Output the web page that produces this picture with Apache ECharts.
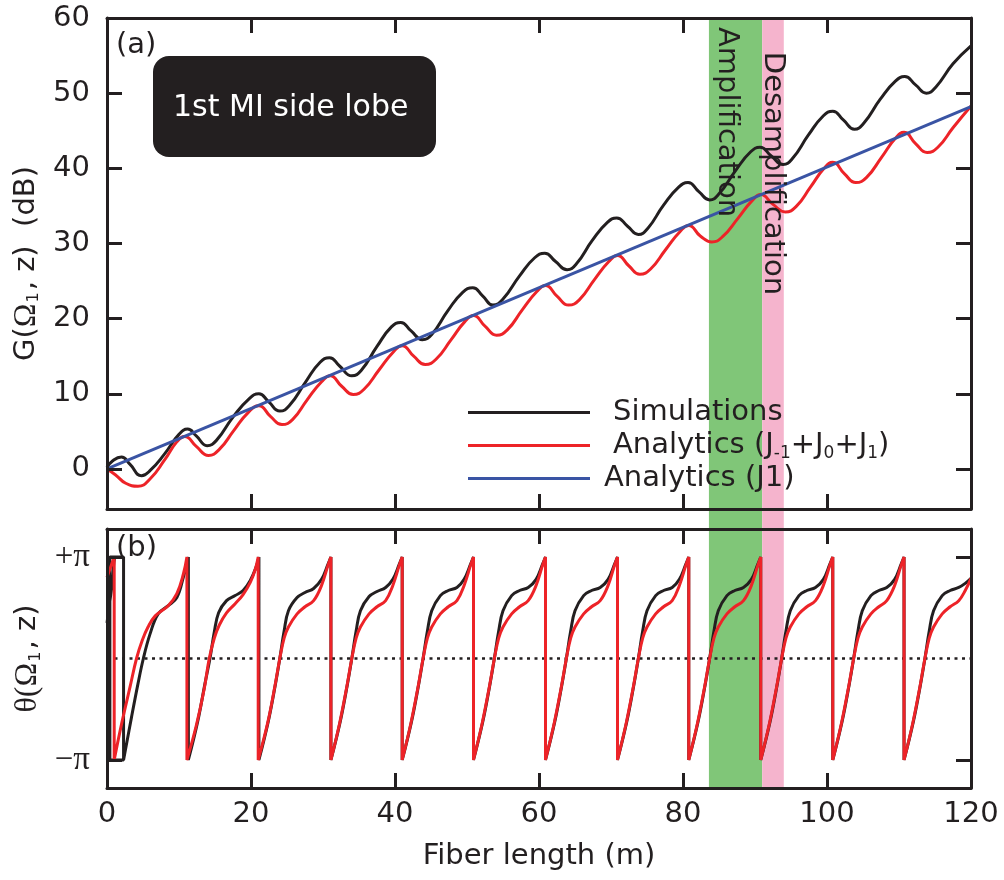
<!DOCTYPE html>
<html><head><meta charset="utf-8">
<script src="https://cdn.jsdelivr.net/npm/echarts@6/dist/echarts.min.js"></script>
<style>html,body{margin:0;padding:0;background:#fff}#c{width:1004px;height:880px}</style>
</head><body><div id="c"></div>
<script>
// ---------------- data ----------------
const xTicks = [0, 20, 40, 60, 80, 100, 120];
const gainTicks = [0, 10, 20, 30, 40, 50, 60];
const thetaTicks = [-1, 1];              // in units of π
const thetaTickLabels = ['−π', '+π'];
const seriesNames = ['Simulations', 'Analytics (J-1+J0+J1)', 'Analytics (J1)'];
const bandAmplification = [83.6, 91.0];
const bandDesamplification = [91.0, 94.0];

// (a) gain in dB vs fiber length (m)
const gainSim = [
 [0,0.2],[0.8,1.1],[2.0,1.6],[3.2,0.6],[4.8,-0.9],[6.0,-0.2],[8.0,2.0],[10.0,4.6],[11.2,5.3],[12.4,4.4],
 [13.9,3.1],[15.2,3.8],[17.5,6.9],[19.8,9.4],[21.1,10.0],[22.4,9.0],[24.0,7.7],[25.3,8.4],[27.6,11.6],[29.6,14.2],
 [30.9,14.8],[32.3,13.7],[34.0,12.4],[35.3,13.1],[37.5,16.3],[39.5,18.9],[40.8,19.5],[42.2,18.4],[43.8,17.2],[45.1,17.9],
 [47.3,21.0],[49.4,23.5],[50.8,24.1],[52.2,23.0],[53.6,21.8],[55.0,22.6],[57.3,25.7],[59.4,28.1],[60.8,28.7],[62.3,27.6],
 [63.9,26.5],[65.2,27.3],[67.4,30.4],[69.5,32.8],[70.8,33.4],[72.3,32.3],[73.8,31.2],[75.1,32.0],[77.3,35.1],[79.4,37.5],
 [80.7,38.1],[82.2,36.9],[83.7,35.8],[85.0,36.6],[87.3,39.7],[89.4,42.2],[90.7,42.8],[92.3,41.6],[93.9,40.5],[95.2,41.3],
 [97.4,44.4],[99.5,47.0],[100.8,47.6],[102.3,46.4],[103.8,45.2],[105.1,46.0],[107.4,49.2],[109.5,51.6],[110.8,52.2],[112.3,51.1],
 [113.8,50.0],[115.1,50.8],[117.5,53.9],[120,56.3]
];
const gainAnaFull = [
 [0,0],[1.2,-0.8],[2.6,-1.9],[4.3,-2.3],[6.0,-1.3],[8.0,1.2],[9.7,3.6],[10.8,4.3],[12.4,3.0],[14.1,1.8],
 [15.6,2.6],[17.6,5.1],[19.6,7.5],[21.1,8.4],[22.7,7.0],[24.3,5.9],[25.8,6.6],[27.8,9.2],[29.8,11.6],[31.0,12.4],
 [32.6,11.0],[34.2,9.9],[35.7,10.6],[37.8,13.2],[39.8,15.6],[41.0,16.4],[42.6,15.0],[44.2,13.9],[45.7,14.6],[47.8,17.2],
 [49.7,19.6],[50.9,20.4],[52.5,19.0],[54.1,17.8],[55.6,18.5],[57.7,21.2],[59.7,23.6],[60.9,24.4],[62.5,23.0],[64.1,21.8],
 [65.6,22.5],[67.7,25.2],[69.7,27.6],[70.9,28.4],[72.5,27.0],[74.0,25.9],[75.5,26.6],[77.6,29.2],[79.6,31.6],[80.8,32.4],
 [82.4,31.0],[84.0,30.2],[85.5,30.9],[87.6,33.3],[89.6,35.7],[90.8,36.5],[92.5,35.2],[94.2,34.2],[95.7,34.9],[97.7,37.5],
 [99.6,40.0],[100.8,40.8],[102.4,39.3],[104.0,38.1],[105.5,38.8],[107.6,41.5],[109.5,44.0],[110.7,44.8],[112.3,43.3],[113.9,42.1],
 [115.4,42.8],[117.5,45.4],[120.0,48.3]
];
const gainAnaJ1 = [[0,0],[120,48.2]];

// (b) phase θ in units of π vs fiber length (m)
const phaseSim = [
 [0,0.35],[0.7,0.72],[1.3,1.0],[2.3,1.0],[2.3,-1.0],[0.4,-1.0],[0.4,1.0],[2.3,1.0],[2.3,-1.0],
 [3.4,-0.58],[4.3,-0.25],[5.05,0],[5.97,0.24],[7.1,0.44],[8.5,0.52],[9.7,0.6],[10.6,0.8],[11.3,1.0],
 [11.3,-1],[12.6,-0.62],[13.6,-0.25],[14.3,0],[14.9,0.26],[15.5,0.45],[16.6,0.57],[17.8,0.62],[18.9,0.67],[19.9,0.77],[20.7,0.9],[21.1,1.0],
 [21.1,-1],[22.4,-0.62],[23.4,-0.25],[24.0,0],[24.6,0.27],[25.2,0.47],[26.4,0.6],[27.5,0.65],[28.7,0.69],[29.8,0.78],[30.7,0.93],[31.1,1.0],
 [31.1,-1],[32.4,-0.62],[33.4,-0.25],[34.0,0],[34.6,0.27],[35.2,0.47],[36.4,0.61],[37.5,0.66],[38.7,0.7],[39.7,0.78],[40.6,0.93],[41.0,1.0],
 [41.0,-1],[42.3,-0.62],[43.3,-0.25],[43.9,0],[44.5,0.27],[45.1,0.47],[46.3,0.62],[47.4,0.67],[48.6,0.7],[49.6,0.78],[50.5,0.93],[50.9,1.0],
 [50.9,-1],[52.2,-0.62],[53.2,-0.25],[53.8,0],[54.4,0.27],[55.0,0.47],[56.2,0.62],[57.3,0.67],[58.5,0.7],[59.6,0.78],[60.5,0.93],[60.9,1.0],
 [60.9,-1],[62.2,-0.62],[63.2,-0.25],[63.8,0],[64.4,0.27],[65.0,0.47],[66.2,0.62],[67.3,0.67],[68.5,0.7],[69.6,0.78],[70.5,0.93],[70.9,1.0],
 [70.9,-1],[72.2,-0.62],[73.2,-0.25],[73.8,0],[74.4,0.27],[75.0,0.47],[76.2,0.62],[77.3,0.67],[78.5,0.7],[79.5,0.78],[80.4,0.93],[80.8,1.0],
 [80.8,-1],[82.1,-0.62],[83.1,-0.25],[83.7,0],[84.3,0.27],[84.9,0.47],[86.1,0.62],[87.2,0.67],[88.4,0.7],[89.5,0.78],[90.4,0.93],[90.8,1.0],
 [90.8,-1],[92.1,-0.62],[93.1,-0.25],[93.7,0],[94.3,0.27],[94.9,0.47],[96.1,0.62],[97.2,0.67],[98.4,0.7],[99.5,0.78],[100.4,0.93],[100.8,1.0],
 [100.8,-1],[102.1,-0.62],[103.1,-0.25],[103.7,0],[104.3,0.27],[104.9,0.47],[106.1,0.62],[107.2,0.67],[108.3,0.7],[109.4,0.78],[110.3,0.93],[110.7,1.0],
 [110.7,-1],[112.0,-0.62],[113.0,-0.25],[113.6,0],[114.2,0.27],[114.8,0.47],[116.0,0.62],[117.1,0.67],[118.3,0.7],[119.2,0.74],[120,0.79]
];
const phaseAnaFull = [
 [0,0.8],[0.5,0.9],[1.0,1.0],[1.0,-1.0],[2.1,-0.62],[3.2,-0.28],[4.1,0],[4.9,0.18],[5.7,0.31],[6.7,0.42],[8.5,0.52],[9.7,0.64],[10.6,0.83],[11.1,1.0],
 [11.1,-1],[12.4,-0.66],[13.5,-0.3],[14.2,0],[14.9,0.2],[15.6,0.33],[16.6,0.45],[17.8,0.54],[18.9,0.63],[19.9,0.75],[20.6,0.88],[21.0,1.0],
 [21.0,-1],[22.3,-0.64],[23.3,-0.28],[24.0,0],[24.6,0.2],[25.2,0.31],[26.4,0.44],[27.5,0.51],[28.7,0.57],[29.8,0.72],[30.7,0.92],[31.1,1.0],
 [31.1,-1],[32.3,-0.64],[33.3,-0.28],[34.0,0],[34.6,0.2],[35.2,0.31],[36.4,0.44],[37.5,0.51],[38.7,0.57],[39.7,0.72],[40.6,0.92],[41.0,1.0],
 [41.0,-1],[42.2,-0.64],[43.2,-0.28],[43.9,0],[44.5,0.2],[45.1,0.31],[46.3,0.44],[47.4,0.51],[48.6,0.57],[49.6,0.72],[50.5,0.92],[50.9,1.0],
 [50.9,-1],[52.1,-0.64],[53.1,-0.28],[53.8,0],[54.4,0.2],[55.0,0.31],[56.2,0.44],[57.3,0.51],[58.5,0.57],[59.6,0.72],[60.5,0.92],[60.9,1.0],
 [60.9,-1],[62.1,-0.64],[63.1,-0.28],[63.8,0],[64.4,0.2],[65.0,0.31],[66.2,0.44],[67.3,0.51],[68.5,0.57],[69.6,0.72],[70.5,0.92],[70.9,1.0],
 [70.9,-1],[72.1,-0.64],[73.1,-0.28],[73.8,0],[74.4,0.2],[75.0,0.31],[76.2,0.44],[77.3,0.51],[78.5,0.57],[79.5,0.72],[80.4,0.92],[80.8,1.0],
 [80.8,-1],[82.0,-0.64],[83.0,-0.28],[83.7,0],[84.3,0.2],[84.9,0.31],[86.1,0.44],[87.2,0.51],[88.4,0.57],[89.5,0.72],[90.4,0.92],[90.8,1.0],
 [90.8,-1],[92.0,-0.64],[93.0,-0.28],[93.7,0],[94.3,0.2],[94.9,0.31],[96.1,0.44],[97.2,0.51],[98.4,0.57],[99.5,0.72],[100.4,0.92],[100.8,1.0],
 [100.8,-1],[102.0,-0.64],[103.0,-0.28],[103.7,0],[104.3,0.2],[104.9,0.31],[106.1,0.44],[107.2,0.51],[108.3,0.57],[109.4,0.72],[110.3,0.92],[110.7,1.0],
 [110.7,-1],[111.9,-0.64],[112.9,-0.28],[113.6,0],[114.2,0.2],[114.8,0.31],[116.0,0.44],[117.1,0.51],[118.3,0.57],[119.2,0.67],[120,0.79]
];
const phaseZeroLine = [[0,0],[120,0]];

// ---------------- style ----------------
const INK = '#231f20', RED = '#ed2328', BLUE = '#3a54a4', GREEN = '#80c678', PINK = '#f5b4cd';
const SANS = 'DejaVu Sans', SERIF = 'Liberation Serif';
const FS = 29;

function xAxisFrame(gridIndex, position, showLabels, name) {
  return {
    type: 'value', gridIndex, position, min: xTicks[0], max: xTicks[xTicks.length - 1],
    interval: xTicks[1] - xTicks[0], z: 5,
    name: name || '', nameLocation: 'middle', nameGap: 54,
    nameTextStyle: { fontFamily: SANS, fontSize: FS, color: INK },
    axisLine: { show: true, onZero: false, lineStyle: { color: INK, width: 3 } },
    axisTick: { show: true, inside: true, length: 15, lineStyle: { color: INK, width: 3 } },
    axisLabel: { show: showLabels, margin: 12, fontFamily: SANS, fontSize: FS, color: INK },
    splitLine: { show: false }
  };
}
function yAxisFrame(gridIndex, position, min, max, ticks, showLabels, extra, labelExtra) {
  return Object.assign({
    type: 'value', gridIndex, position, min, max, z: 5,
    axisLine: { show: true, onZero: false, lineStyle: { color: INK, width: 3 } },
    axisTick: { show: true, inside: true, length: 15, customValues: ticks, lineStyle: { color: INK, width: 3 } },
    axisLabel: Object.assign({ show: showLabels, customValues: ticks, margin: 17, fontFamily: SANS, fontSize: FS, color: INK }, labelExtra || {}),
    splitLine: { show: false }
  }, extra || {});
}

const chart = echarts.init(document.getElementById('c'), null, { renderer: 'canvas' });

const legendText = {
  'Simulations': '{p1|}Simulations',
  'Analytics (J-1+J0+J1)': '{p1|}Analytics (J{s|-1}+J{s|0}+J{s|1})',
  'Analytics (J1)': '{p2|}Analytics (J1)'
};
const thetaLabel = {
  formatter: v => {
    const i = thetaTicks.findIndex(t => Math.abs(t - v) < 1e-6);
    return i >= 0 ? '{g|' + thetaTickLabels[i] + '}' : '';
  },
  rich: { g: { fontFamily: SERIF, fontSize: 33, color: INK } }
};

const option = {
  animation: false,
  backgroundColor: '#fff',
  grid: [
    { left: 107, right: 33, top: 18, height: 491 },
    { left: 107, right: 33, top: 529, height: 259 },
    { left: 107, right: 33, top: 18, height: 770 }
  ],
  xAxis: [
    xAxisFrame(0, 'bottom', false),
    xAxisFrame(0, 'top', false),
    xAxisFrame(1, 'bottom', true, 'Fiber length (m)'),
    xAxisFrame(1, 'top', false),
    { type: 'value', gridIndex: 2, min: 0, max: 120, show: false }
  ],
  yAxis: [
    yAxisFrame(0, 'left', -5.33, 60, gainTicks, true, {
      name: '{t|G(}{g|Ω}{s|1}{t|, z)  (dB)}', nameLocation: 'middle', nameGap: 50, nameRotate: 90,
      nameTextStyle: { rich: {
        t: { fontFamily: SANS, fontSize: FS, color: INK },
        g: { fontFamily: SERIF, fontSize: 32, color: INK },
        s: { fontFamily: SANS, fontSize: 16, color: INK, verticalAlign: 'bottom', padding: [0, 2, 0, 1] }
      } }
    }),
    yAxisFrame(0, 'right', -5.33, 60, gainTicks, false),
    yAxisFrame(1, 'left', -1.276, 1.276, thetaTicks, true, {
      name: '{g|θ(Ω}{s|1}{t|, z)}', nameLocation: 'middle', nameGap: 50, nameRotate: 90,
      nameTextStyle: { rich: {
        t: { fontFamily: SANS, fontSize: FS, color: INK },
        g: { fontFamily: SERIF, fontSize: 32, color: INK },
        s: { fontFamily: SANS, fontSize: 16, color: INK, verticalAlign: 'bottom', padding: [0, 2, 0, 1] }
      } }
    }, thetaLabel),
    yAxisFrame(1, 'right', -1.276, 1.276, thetaTicks, false),
    { type: 'value', gridIndex: 2, min: 0, max: 1, show: false }
  ],
  legend: {
    data: seriesNames, orient: 'vertical', left: 463, top: 391, itemGap: 0,
    icon: 'rect', itemWidth: 122, itemHeight: 3, selectedMode: false,
    formatter: n => legendText[n] || n,
    textStyle: { fontFamily: SANS, fontSize: FS, color: INK, lineHeight: 33,
      rich: {
        p1: { width: 18 }, p2: { width: 9 },
        s: { fontFamily: SANS, fontSize: 17, color: INK, verticalAlign: 'bottom', lineHeight: 20 }
      } }
  },
  series: [
    { name: seriesNames[0], type: 'line', xAxisIndex: 0, yAxisIndex: 0, data: gainSim, smooth: 0.5,
      symbol: 'none', z: 3, lineStyle: { color: INK, width: 3 }, itemStyle: { color: INK } },
    { name: seriesNames[1], type: 'line', xAxisIndex: 0, yAxisIndex: 0, data: gainAnaFull, smooth: 0.5,
      symbol: 'none', z: 3, lineStyle: { color: RED, width: 3 }, itemStyle: { color: RED } },
    { name: seriesNames[2], type: 'line', xAxisIndex: 0, yAxisIndex: 0, data: gainAnaJ1,
      symbol: 'none', z: 3, lineStyle: { color: BLUE, width: 3 }, itemStyle: { color: BLUE } },
    { name: 'zero', type: 'line', xAxisIndex: 2, yAxisIndex: 2, data: phaseZeroLine, symbol: 'none', silent: true,
      z: 3, lineStyle: { color: INK, width: 2.5, type: [3, 4.5] } },
    { name: seriesNames[0], type: 'line', xAxisIndex: 2, yAxisIndex: 2, data: phaseSim, smooth: 0.4,
      symbol: 'none', z: 3, lineStyle: { color: INK, width: 3 }, itemStyle: { color: INK } },
    { name: seriesNames[1], type: 'line', xAxisIndex: 2, yAxisIndex: 2, data: phaseAnaFull, smooth: 0.4,
      symbol: 'none', z: 3, lineStyle: { color: RED, width: 3 }, itemStyle: { color: RED } },
    { name: 'bands', type: 'line', xAxisIndex: 4, yAxisIndex: 4, data: [], z: 1, silent: true,
      markArea: { silent: true, data: [
        [{ xAxis: bandAmplification[0], itemStyle: { color: GREEN } }, { xAxis: bandAmplification[1] }],
        [{ xAxis: bandDesamplification[0], itemStyle: { color: PINK } }, { xAxis: bandDesamplification[1] }]
      ] } }
  ]
};
chart.setOption(option);

// annotations (positioned through the chart's own coordinate system)
const pA = chart.convertToPixel({ seriesIndex: 0 }, [86.1, 58.8]);
const pD = chart.convertToPixel({ seriesIndex: 0 }, [92.4, 55.5]);
chart.setOption({
  graphic: [
    { type: 'text', x: pA[0], y: pA[1], rotation: -Math.PI / 2, z: 10,
      style: { text: 'Amplification', fontFamily: SANS, fontSize: FS, fill: INK, textAlign: 'left', textVerticalAlign: 'middle' } },
    { type: 'text', x: pD[0], y: pD[1], rotation: -Math.PI / 2, z: 10,
      style: { text: 'Desamplification', fontFamily: SANS, fontSize: FS, fill: INK, textAlign: 'left', textVerticalAlign: 'middle' } },
    { type: 'text', x: 116, y: 45, z: 10,
      style: { text: '(a)', fontFamily: SANS, fontSize: FS, fill: INK, textVerticalAlign: 'middle' } },
    { type: 'text', x: 116, y: 548, z: 10,
      style: { text: '(b)', fontFamily: SANS, fontSize: FS, fill: INK, textVerticalAlign: 'middle' } },
    { type: 'rect', shape: { x: 153, y: 56, width: 283, height: 101, r: 16 }, z: 10,
      style: { fill: INK } },
    { type: 'text', x: 173, y: 108, z: 11,
      style: { text: '1st MI side lobe', fontFamily: SANS, fontSize: 30, fill: '#fff', textVerticalAlign: 'middle' } }
  ]
});
</script>
</body></html>
